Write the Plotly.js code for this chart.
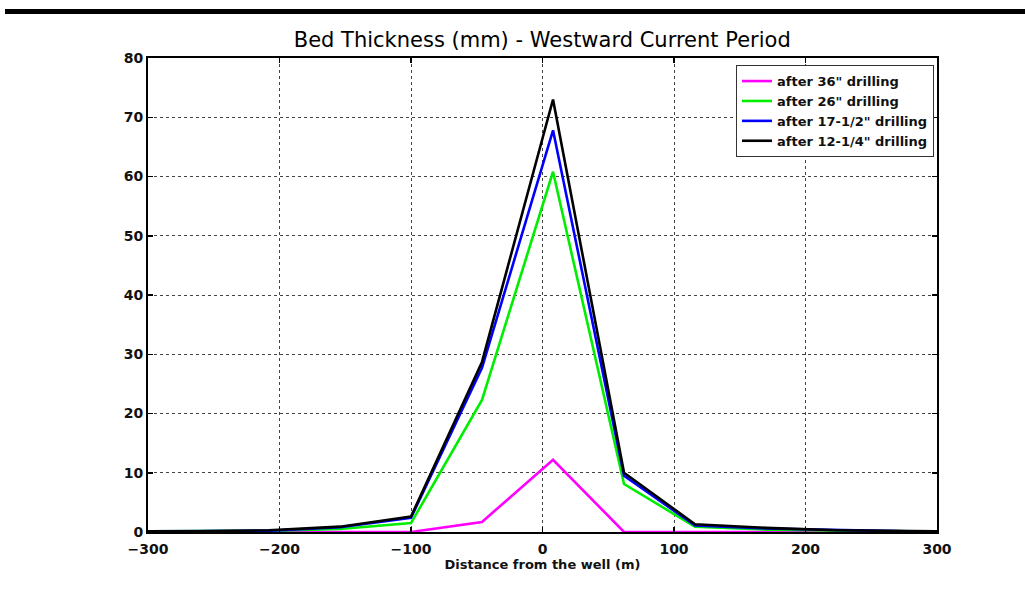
<!DOCTYPE html>
<html><head><meta charset="utf-8">
<script src="https://cdn.plot.ly/plotly-3.0.1.min.js"></script>
<style>
html,body{margin:0;padding:0;background:#fff;}
#bar{position:absolute;left:5px;top:9px;width:1020px;height:5px;background:#000;}
#chart{position:absolute;left:0;top:0;width:1025px;height:596px;}
</style></head>
<body>
<div id="chart"></div>
<div id="bar"></div>
<script>
const distance = [-300, -262, -208, -154, -100, -46, 8, 62, 116, 170, 224, 278, 300];
const after36 = [0, 0, 0, 0, 0, 1.7, 12.2, 0, 0, 0, 0, 0, 0];
const after26 = [0.1, 0.1, 0.2, 0.5, 1.5, 22.3, 60.8, 8.1, 0.9, 0.4, 0.2, 0.1, 0.1];
const after17 = [0.1, 0.1, 0.2, 0.8, 2.4, 27.7, 67.8, 9.5, 1.1, 0.6, 0.3, 0.1, 0.1];
const after12 = [0.1, 0.1, 0.3, 0.9, 2.6, 28.7, 73.0, 10.0, 1.3, 0.7, 0.3, 0.1, 0.1];
const seriesNames = ['after 36" drilling', 'after 26" drilling', 'after 17-1/2" drilling', 'after 12-1/4" drilling'];
const colors = ['#ff00ff', '#00ee00', '#0000ff', '#000000'];
const series = [after36, after26, after17, after12];

const traces = series.map((v, i) => ({
  x: distance, y: v, type: 'scatter', mode: 'lines', name: seriesNames[i],
  line: {color: colors[i], width: 2.6}
}));

const boldFont = 'DejaVu Sans, sans-serif';
const axisCommon = {
  showline: true, linecolor: '#000', linewidth: 2, mirror: 'ticks',
  ticks: 'inside', ticklen: 5, tickcolor: '#000', tickwidth: 1.5,
  showgrid: true, gridcolor: '#444', griddash: 'dot', gridwidth: 1,
  zeroline: false,
  tickfont: {family: boldFont, size: 14, color: '#111', weight: 'bold'}
};

const layout = {
  width: 1025, height: 596,
  margin: {l: 148, r: 88, t: 58, b: 64},
  paper_bgcolor: '#fff', plot_bgcolor: '#fff',
  title: {text: 'Bed Thickness (mm) - Westward Current Period', x: 0.529, xanchor: 'center', y: 0.934, yanchor: 'middle',
    font: {family: 'DejaVu Sans, sans-serif', size: 21, color: '#000'}},
  xaxis: Object.assign({}, axisCommon, {
    range: [-300, 300], tickvals: [-300, -200, -100, 0, 100, 200, 300], ticklabelstandoff: 3,
    title: {text: 'Distance from the well (m)', standoff: 1,
      font: {family: boldFont, size: 13, color: '#111', weight: 'bold'}}
  }),
  yaxis: Object.assign({}, axisCommon, {
    range: [0, 80], tickvals: [0, 10, 20, 30, 40, 50, 60, 70, 80]
  }),
  showlegend: true,
  legend: {x: 0.9962, xanchor: 'right', y: 0.985, yanchor: 'top', bgcolor: '#fff', bordercolor: '#333', borderwidth: 1,
    tracegroupgap: 0, itemwidth: 30,
    font: {family: boldFont, size: 13, color: '#111', weight: 'bold'}}
};

Plotly.newPlot('chart', traces, layout, {displayModeBar: false, staticPlot: true});
</script>
</body></html>
